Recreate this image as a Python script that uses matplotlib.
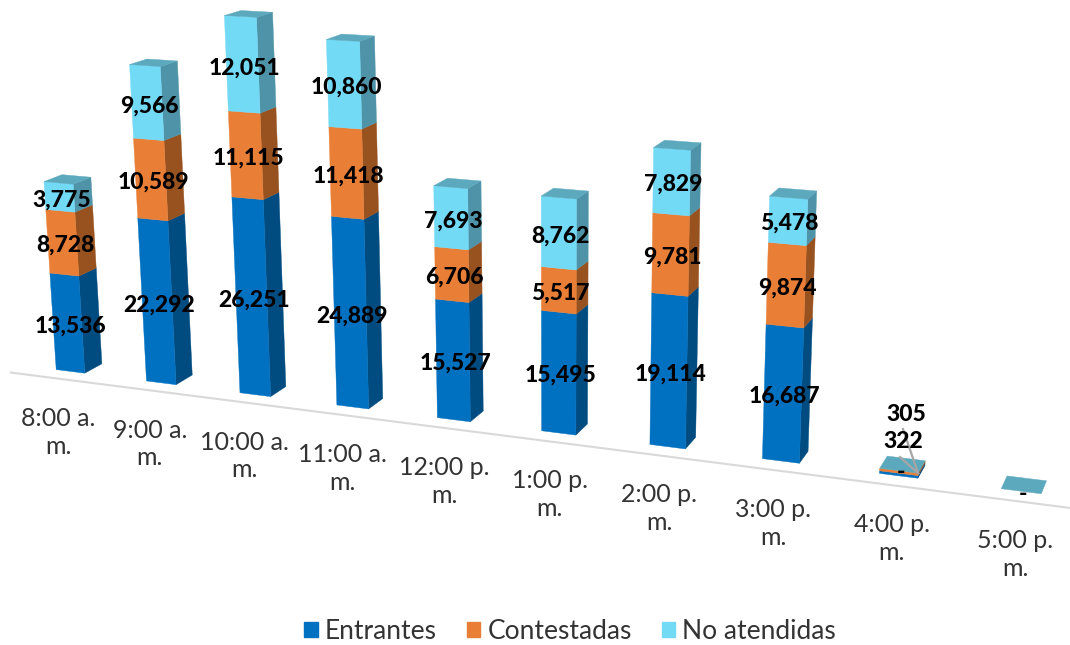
#!/usr/bin/env python3
"""
Llamadas por hora: columnas apiladas con aspecto 3D (perspectiva ajustada a mano)
"""
import numpy as np
import matplotlib
matplotlib.use('Agg')
import matplotlib.pyplot as plt
from matplotlib.patches import Patch

plt.rcParams['font.family'] = ['Lato', 'DejaVu Sans']

horas = ['8:00 a.\nm.', '9:00 a.\nm.', '10:00 a.\nm.', '11:00 a.\nm.', '12:00 p.\nm.',
         '1:00 p.\nm.', '2:00 p.\nm.', '3:00 p.\nm.', '4:00 p.\nm.', '5:00 p.\nm.']
entrantes = [13536, 22292, 26251, 24889, 15527, 15495, 19114, 16687, 322, 0]
contestadas = [8728, 10589, 11115, 11418, 6706, 5517, 9781, 9874, 305, 0]
no_atendidas = [3775, 9566, 12051, 10860, 7693, 8762, 7829, 5478, 0, 0]
series = ['Entrantes', 'Contestadas', 'No atendidas']

# front, side
COLORS = [('#0070C0', '#004C80'), ('#E97F37', '#98521F'), ('#73DAF6', '#4F93A8')]
TOP_COLOR = '#5CA9BE'
HALF = 0.16

# camera: category, value, depth -> pixel, points measured on the picture
camera_points = [
    (-HALF, 0, 0, 56, 370), (HALF, 0, 0, 84, 373), (HALF, 0, 1, 102, 362),
    (-HALF, 26039, 0, 44, 182), (HALF, 26039, 0, 75, 185), (HALF, 26039, 1, 91, 177), (-HALF, 26039, 1, 61, 175),
    (2 - HALF, 0, 0, 240, 393), (2 + HALF, 0, 0, 270, 397), (2 + HALF, 0, 1, 286, 387),
    (2 - HALF, 49417, 0, 224, 16), (2 + HALF, 49417, 0, 256, 17), (2 + HALF, 49417, 1, 272, 13), (2 - HALF, 49417, 1, 241, 10),
    (3 - HALF, 0, 0, 338, 405), (3 + HALF, 0, 0, 368, 409), (3 + HALF, 0, 1, 383, 398),
    (3 - HALF, 47167, 0, 327, 39), (3 + HALF, 47167, 0, 359, 41), (3 + HALF, 47167, 1, 374, 36), (3 - HALF, 47167, 1, 343, 34),
    (7 - HALF, 0, 0, 763, 459), (7 + HALF, 0, 0, 799, 463), (7 + HALF, 0, 1, 808, 452),
    (7 - HALF, 32039, 0, 770, 196), (7 + HALF, 32039, 0, 808, 198), (7 + HALF, 32039, 1, 817, 192), (7 - HALF, 32039, 1, 778, 188),
    (9 - HALF, 0, 0, 1001, 488), (9 + HALF, 0, 0, 1041, 494), (9 + HALF, 0, 1, 1045, 481), (9 - HALF, 0, 1, 1009, 476),
]


def fit_camera(points):
    """Matriz de proyeccion por minimos cuadrados"""
    A, b = [], []
    for x, y, z, u, v in points:
        y = y / 10000
        A.append([x, y, z, 1, 0, 0, 0, 0, -u * x, -u * y, -u * z])
        A.append([0, 0, 0, 0, x, y, z, 1, -v * x, -v * y, -v * z])
        b += [u, v]
    p = np.linalg.lstsq(np.array(A, float), np.array(b, float), rcond=None)[0]
    return np.append(p, 1).reshape(3, 4)


CAMERA = fit_camera(camera_points)


def project(x, y, z):
    q = CAMERA @ np.array([x, y / 10000, z, 1.0])
    return q[0] / q[2], q[1] / q[2]


def face(ax, corners, color, zorder=2):
    pts = [project(*c) for c in corners]
    ax.fill([p[0] for p in pts], [p[1] for p in pts], color=color, lw=0.3, zorder=zorder)


def draw_bar(ax, i, stack):
    l, r = i - HALF, i + HALF
    bottom = 0
    for value, (front, side) in zip(stack, COLORS):
        top = bottom + value
        if value > 0:
            face(ax, [(r, bottom, 0), (r, bottom, 1), (r, top, 1), (r, top, 0)], side)
            face(ax, [(l, bottom, 0), (r, bottom, 0), (r, top, 0), (l, top, 0)], front)
        bottom = top
    face(ax, [(l, bottom, 0), (r, bottom, 0), (r, bottom, 1), (l, bottom, 1)], TOP_COLOR)


fig = plt.figure(figsize=(10.7, 6.45), dpi=100)
ax = fig.add_axes([0, 0, 1, 1])
ax.set_xlim(0, 1070)
ax.set_ylim(645, 0)
ax.axis('off')

# eje de categorias
x0, y0 = project(-0.52, 0, -0.75)
x1, y1 = project(9.5, 0, -0.75)
ax.plot([x0, x1], [y0, y1], color='#D9D9D9', lw=1.5, zorder=1)

stacks = list(zip(entrantes, contestadas, no_atendidas))
for i, stack in enumerate(stacks):
    draw_bar(ax, i, stack)

    # etiquetas de valor
    bottom = 0
    for value in stack:
        mx, my = project(i, bottom + value / 2, 0.15)
        bottom += value
        if i < 8:
            ax.text(mx, my + 4, f'{value:,}', ha='center', va='center', fontsize=16.5,
                    fontweight=900, color='black', zorder=5)

    tx, ty = project(i, -6000, -1)
    ax.text(tx + 3, ty + 9 - i, horas[i], ha='center', va='center', fontsize=18, color='#333333',
            linespacing=1.25, zorder=5)

# barras casi vacias: etiquetas desplazadas con linea guia
ax_, ay_ = project(8 + HALF, 600, 0)
bx, by = project(8, 300, 0.5)
for lx, ly, label, gy in [(906, by - 53, f'{contestadas[8]:,}', by - 38), (903, by - 26, f'{entrantes[8]:,}', by - 10)]:
    ax.text(lx, ly, label, ha='center', va='center', fontsize=16.5, fontweight=900, zorder=6)
    ax.plot([ax_, lx - 3], [ay_, gy], color='#A6A6A6', lw=1.6, zorder=5)
ax.text(bx - 1, by + 5, '-', ha='center', va='center', fontsize=16.5, fontweight=900, zorder=6)
ex, ey = project(9, 0, 0.5)
ax.text(ex - 1, ey + 10, '-', ha='center', va='center', fontsize=16.5, fontweight=900, zorder=6)

handles = [Patch(color=c[0], label=s) for c, s in zip(COLORS, series)]
fig.legend(handles=handles, loc='center', bbox_to_anchor=(0.533, 0.0217), ncol=3, frameon=False,
           fontsize=19, handlelength=0.5, handleheight=0.5, handletextpad=0.27, columnspacing=1.15,
           labelcolor='#333333')

fig.savefig('out.png', dpi=100)
plt.close(fig)
